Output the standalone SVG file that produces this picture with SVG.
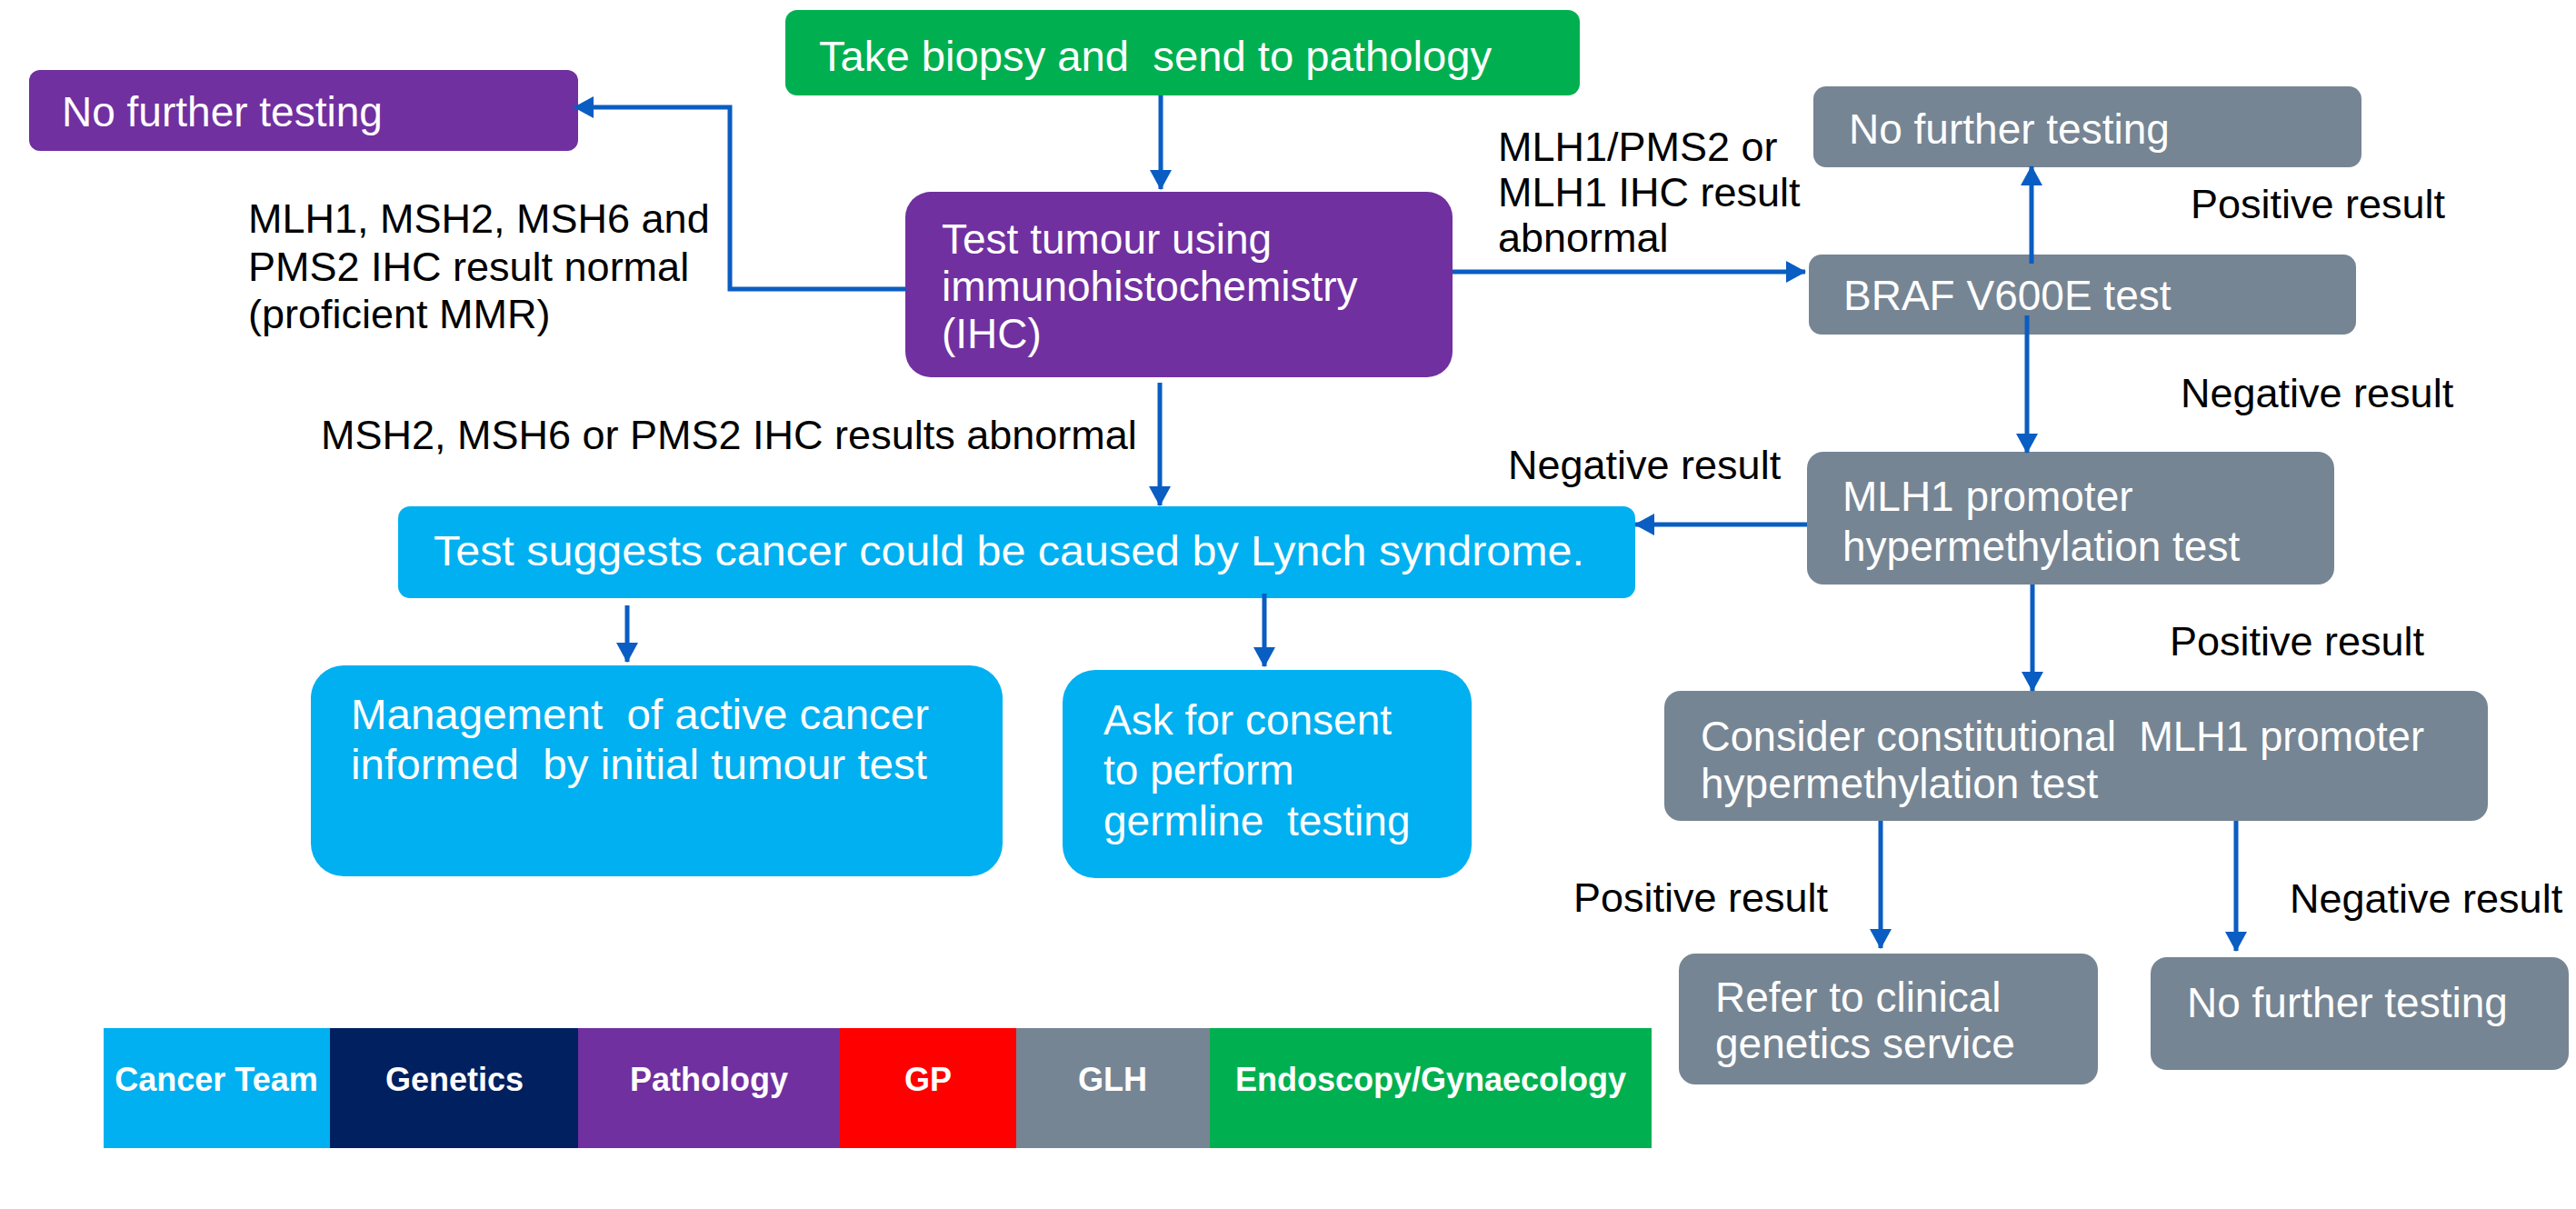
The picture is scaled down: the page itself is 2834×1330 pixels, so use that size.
<svg xmlns="http://www.w3.org/2000/svg" width="2834" height="1330" viewBox="0 0 2834 1330">
<defs>
<style>
text{font-family:"Liberation Sans",Arial,sans-serif;}
.bt{fill:#ffffff;font-size:46px;}
.lb{fill:#000000;font-size:45px;}
.lg{fill:#ffffff;font-size:36px;font-weight:bold;text-anchor:middle;}
.purple{fill:#7030A0;}
.green{fill:#00B050;}
.grey{fill:#768593;}
.blue{fill:#00B0F0;}
.conn{fill:none;stroke:#0A5DC2;stroke-width:5;marker-end:url(#ah);}
</style>
<marker id="ah" viewBox="0 0 22 24" refX="21" refY="12" markerWidth="22" markerHeight="24" markerUnits="userSpaceOnUse" orient="auto">
<path d="M0,0 L22,12 L0,24 Z" fill="#0A5DC2"/>
</marker>
</defs>
<rect width="2834" height="1330" fill="#ffffff"/>

<g id="n-biopsy">
<rect class="green" x="864" y="11" width="874" height="94" rx="13"/>
<text class="bt" x="901" y="78" font-size="48.4" xml:space="preserve" textLength="740" lengthAdjust="spacingAndGlyphs">Take biopsy and  send to pathology</text>
</g>
<g id="n-nft-left">
<rect class="purple" x="32" y="77" width="604" height="89" rx="12"/>
<text class="bt" x="68" y="139">No further testing</text>
</g>
<g id="n-ihc">
<rect class="purple" x="996" y="211" width="602" height="204" rx="28"/>
<text class="bt" x="1036" y="279">Test tumour using</text>
<text class="bt" x="1036" y="331">immunohistochemistry</text>
<text class="bt" x="1036" y="383">(IHC)</text>
</g>
<g id="n-nft-top">
<rect class="grey" x="1995" y="95" width="603" height="89" rx="14"/>
<text class="bt" x="2034" y="158">No further testing</text>
</g>
<g id="n-braf">
<rect class="grey" x="1990" y="280" width="602" height="88" rx="14"/>
<text class="bt" x="2028" y="341" font-size="45">BRAF V600E test</text>
</g>
<g id="n-mlh1">
<rect class="grey" x="1988" y="497" width="580" height="146" rx="18"/>
<text class="bt" x="2027" y="562">MLH1 promoter</text>
<text class="bt" x="2027" y="617">hypermethylation test</text>
</g>
<g id="n-lynch">
<rect class="blue" x="438" y="557" width="1361" height="101" rx="13"/>
<text class="bt" x="477" y="622" font-size="50.5" textLength="1266" lengthAdjust="spacingAndGlyphs">Test suggests cancer could be caused by Lynch syndrome.</text>
</g>
<g id="n-management">
<rect class="blue" x="342" y="732" width="761" height="232" rx="36"/>
<text class="bt" x="386" y="802" font-size="48.5" xml:space="preserve" textLength="636" lengthAdjust="spacingAndGlyphs">Management  of active cancer</text>
<text class="bt" x="386" y="857" font-size="48.5" xml:space="preserve" textLength="634" lengthAdjust="spacingAndGlyphs">informed  by initial tumour test</text>
</g>
<g id="n-consent">
<rect class="blue" x="1169" y="737" width="450" height="229" rx="36"/>
<text class="bt" x="1214" y="808">Ask for consent</text>
<text class="bt" x="1214" y="863">to perform</text>
<text class="bt" x="1214" y="919" xml:space="preserve">germline  testing</text>
</g>
<g id="n-consider">
<rect class="grey" x="1831" y="760" width="906" height="143" rx="18"/>
<text class="bt" x="1871" y="826" font-size="44.3" xml:space="preserve" textLength="796" lengthAdjust="spacingAndGlyphs">Consider constitutional  MLH1 promoter</text>
<text class="bt" x="1871" y="878" font-size="44.3">hypermethylation test</text>
</g>
<g id="n-refer">
<rect class="grey" x="1847" y="1049" width="461" height="144" rx="18"/>
<text class="bt" x="1887" y="1113">Refer to clinical</text>
<text class="bt" x="1887" y="1164">genetics service</text>
</g>
<g id="n-nft-bottom">
<rect class="grey" x="2366" y="1053" width="460" height="124" rx="18"/>
<text class="bt" x="2406" y="1119">No further testing</text>
</g>

<g id="connectors">
<path class="conn" d="M1277,105 V208"/>
<path class="conn" d="M997,318 H803 V118 H632"/>
<path class="conn" d="M1598,299 H1986"/>
<path class="conn" d="M2235,290 V183"/>
<path class="conn" d="M2230,347 V498"/>
<path class="conn" d="M1988,577 H1799"/>
<path class="conn" d="M2236,643 V760"/>
<path class="conn" d="M1276,421 V556"/>
<path class="conn" d="M690,666 V728"/>
<path class="conn" d="M1391,653 V733"/>
<path class="conn" d="M2069,903 V1043"/>
<path class="conn" d="M2460,903 V1046"/>
</g>

<g id="labels">
<text class="lb" x="273" y="256">MLH1, MSH2, MSH6 and</text>
<text class="lb" x="273" y="309">PMS2 IHC result normal</text>
<text class="lb" x="273" y="361">(proficient MMR)</text>
<text class="lb" x="353" y="494">MSH2, MSH6 or PMS2 IHC results abnormal</text>
<text class="lb" x="1648" y="177">MLH1/PMS2 or</text>
<text class="lb" x="1648" y="227">MLH1 IHC result</text>
<text class="lb" x="1648" y="277">abnormal</text>
<text class="lb" x="2410" y="240">Positive result</text>
<text class="lb" x="2399" y="448">Negative result</text>
<text class="lb" x="1659" y="527">Negative result</text>
<text class="lb" x="2387" y="721">Positive result</text>
<text class="lb" x="1731" y="1003">Positive result</text>
<text class="lb" x="2519" y="1004">Negative result</text>
</g>

<g id="legend">
<rect x="114" y="1131" width="249" height="132" fill="#00B0F0"/>
<rect x="363" y="1131" width="273" height="132" fill="#002060"/>
<rect x="636" y="1131" width="288" height="132" fill="#7030A0"/>
<rect x="924" y="1131" width="194" height="132" fill="#FF0000"/>
<rect x="1118" y="1131" width="213" height="132" fill="#768593"/>
<rect x="1331" y="1131" width="486" height="132" fill="#00B050"/>
<text class="lg" x="238" y="1200">Cancer Team</text>
<text class="lg" x="500" y="1200">Genetics</text>
<text class="lg" x="780" y="1200">Pathology</text>
<text class="lg" x="1021" y="1200">GP</text>
<text class="lg" x="1224" y="1200">GLH</text>
<text class="lg" x="1574" y="1200">Endoscopy/Gynaecology</text>
</g>
</svg>
